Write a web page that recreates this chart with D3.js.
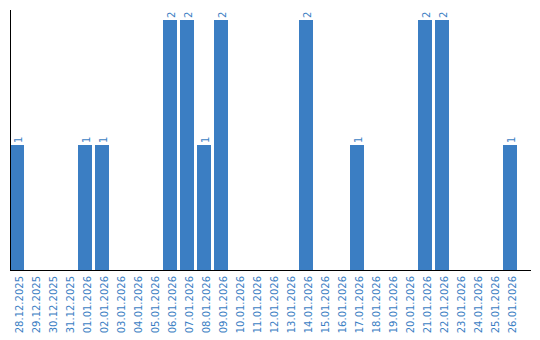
<!DOCTYPE html>
<html><head><meta charset="utf-8">
<script src="https://cdn.jsdelivr.net/npm/d3@7"></script>
<style>body{margin:0;background:#fff}svg{display:block}text{font-family:"DejaVu Sans",Verdana,sans-serif}</style>
</head><body><svg id="c" width="540" height="340"></svg>
<script>
const categories = ["28.12.2025","29.12.2025","30.12.2025","31.12.2025","01.01.2026","02.01.2026","03.01.2026","04.01.2026","05.01.2026","06.01.2026","07.01.2026","08.01.2026","09.01.2026","10.01.2026","11.01.2026","12.01.2026","13.01.2026","14.01.2026","15.01.2026","16.01.2026","17.01.2026","18.01.2026","19.01.2026","20.01.2026","21.01.2026","22.01.2026","23.01.2026","24.01.2026","25.01.2026","26.01.2026"];
const values = [1,0,0,0,1,1,0,0,0,2,2,1,2,0,0,0,0,2,0,0,1,0,0,0,2,2,0,0,0,1];

(function(){
const color = "#3b7ec3";
const svg = d3.select("#c");
const mLeft = 10, base = 270, mTop = 20;
const x = d3.scaleBand().domain(categories).range([mLeft, mLeft + 30*17 - 3]).paddingInner(3/17).paddingOuter(0);
const y = d3.scaleLinear().domain([0, 2]).range([base, mTop]);

svg.selectAll("rect.bar").data(categories).join("rect")
  .attr("class","bar")
  .attr("x", d => x(d)).attr("width", x.bandwidth())
  .attr("y", (d,i) => y(values[i])).attr("height", (d,i) => base - y(values[i]))
  .attr("fill", color);

svg.selectAll("text.val").data(categories.filter((d,i)=>values[i]>0)).join("text")
  .attr("class","val")
  .attr("transform", d => { const i = categories.indexOf(d); return `translate(${x(d)+x.bandwidth()/2+1},${y(values[i])-2}) rotate(-90)`; })
  .attr("dy","0.35em").attr("font-size","10px").attr("fill", color)
  .text(d => values[categories.indexOf(d)]);

const xa = svg.append("g").attr("transform",`translate(0,${base})`)
  .call(d3.axisBottom(x).tickSize(0).tickPadding(0));
xa.select(".domain").remove();
xa.selectAll("text").attr("font-size","10px").attr("fill",color)
  .attr("font-family",'"DejaVu Sans",Verdana,sans-serif')
  .attr("text-anchor","end").attr("transform","translate(2,6) rotate(-90)")
  .attr("x",0).attr("y",0).attr("dy","0.35em");

svg.append("line").attr("x1",mLeft+0.5).attr("x2",mLeft+0.5).attr("y1",10).attr("y2",base).attr("stroke","#000");
svg.append("line").attr("x1",mLeft).attr("x2",531).attr("y1",base+0.5).attr("y2",base+0.5).attr("stroke","#000");
})();
</script></body></html>
